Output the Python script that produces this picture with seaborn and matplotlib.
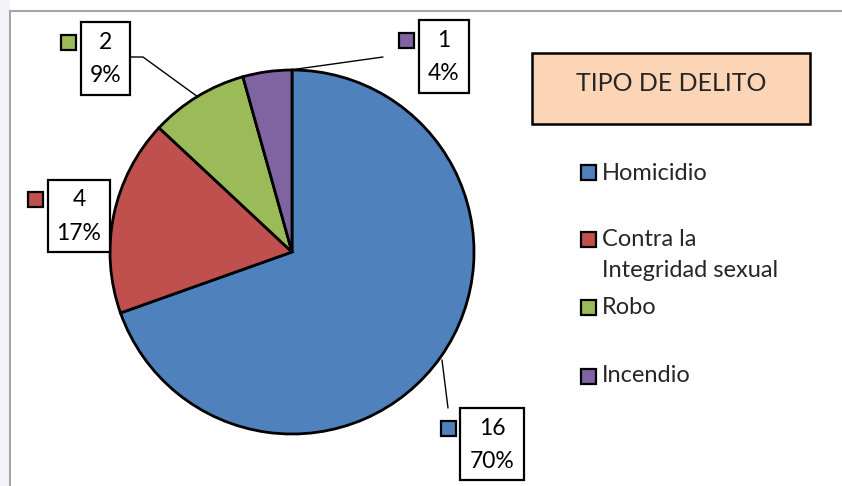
"""Pie chart: TIPO DE DELITO."""

import matplotlib
matplotlib.use("Agg")
import matplotlib.pyplot as plt
from matplotlib.patches import Rectangle
import seaborn as sns

# Data
CATEGORIES = ["Homicidio", "Contra la\nIntegridad sexual", "Robo", "Incendio"]
COUNTS = [16, 4, 2, 1]
PERCENTS = ["70%", "17%", "9%", "4%"]
TITLE = "TIPO DE DELITO"

COLORS = sns.color_palette(["#4F81BD", "#C0504D", "#9BBB59", "#8064A2"])

sns.set_theme(style="white")
plt.rcParams["font.family"] = ["Lato", "DejaVu Sans"]

W, H = 842, 486
fig = plt.figure(figsize=(W / 100, H / 100), dpi=100)
ax = fig.add_axes([0, 0, 1, 1])


def py(y):
    """Convert a top-down pixel row into axis y."""
    return H - y


# Pie
ax.pie(COUNTS, colors=COLORS, startangle=90, counterclock=False,
       center=(292, py(252)), radius=182,
       wedgeprops={"edgecolor": "black", "linewidth": 2})
ax.set_xlim(0, W)
ax.set_ylim(0, H)
ax.set_aspect("equal", adjustable="box")
ax.axis("off")

# Chart frame
ax.add_patch(Rectangle((0, 0), 10, H, facecolor="#F3F3F8", edgecolor="none", zorder=0))
ax.add_patch(Rectangle((10, -5), W + 10, py(11) + 5, facecolor="white",
                       edgecolor="#A6A6A6", linewidth=1.5, zorder=0))

# Data labels: (box left, box top, box w, box h, marker left, marker top)
label_layout = [
    (460, 408, 64, 72, 441, 421),
    (48, 180, 62, 72, 28, 192),
    (81, 22, 49, 73, 61, 35),
    (419, 20, 50, 73, 399, 33),
]
for i, (bx, by, bw, bh, mx, my) in enumerate(label_layout):
    ax.add_patch(Rectangle((bx, py(by + bh)), bw, bh, facecolor="white",
                           edgecolor="black", linewidth=1.6, zorder=3))
    ax.add_patch(Rectangle((mx, py(my + 15)), 15, 15, facecolor=COLORS[i],
                           edgecolor="black", linewidth=1.6, zorder=3))
    cx, cy = bx + bw / 2, by + bh / 2
    ax.text(cx, py(cy - 16), str(COUNTS[i]), ha="center", va="center",
            fontsize=16.5, color="black", zorder=4)
    ax.text(cx, py(cy + 17), PERCENTS[i], ha="center", va="center",
            fontsize=16.5, color="black", zorder=4)

# Leader lines
ax.plot([442, 448], [py(360), py(408)], color="black", lw=1, zorder=2)
ax.plot([130, 143, 198], [py(57), py(57), py(97)], color="black", lw=1, zorder=2)
ax.plot([290, 383], [py(70), py(57)], color="black", lw=1, zorder=2)

# Title box
ax.add_patch(Rectangle((532, py(124)), 278, 71, facecolor="#FBD5B5",
                       edgecolor="black", linewidth=1.8, zorder=3))
ax.text(671, py(91), TITLE, ha="center", va="baseline", fontsize=18, zorder=4)

# Legend
legend_rows = [173, 240, 307, 376]
for i, (name, ly) in enumerate(zip(CATEGORIES, legend_rows)):
    ax.add_patch(Rectangle((581, py(ly + 7.5)), 15, 15, facecolor=COLORS[i],
                           edgecolor="black", linewidth=1.6, zorder=3))
    ax.text(602, py(ly - 10.5), name, ha="left", va="top", fontsize=17,
            linespacing=1.55, zorder=4)

fig.savefig("out.png", dpi=100, facecolor="white")
